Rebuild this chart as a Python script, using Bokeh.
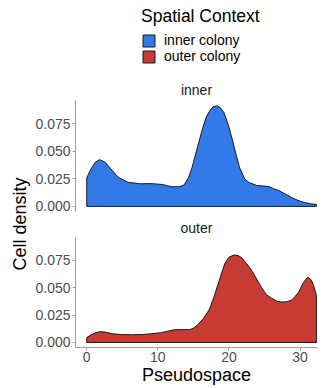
from bokeh.plotting import figure
from bokeh.models import Range1d, FixedTicker, Legend, LegendItem, Title, Label
from bokeh.layouts import row, column
from bokeh.embed import file_html
from bokeh.resources import INLINE

# ---------------- data ----------------
pseudospace_inner = [0, 0.6, 1.2, 1.8, 2.6, 3.4, 4.4, 5.8, 7.6, 9.0, 10.6, 12.0, 13.0,
                     13.7, 14.3, 14.8, 15.5, 16.2, 16.8, 17.3, 17.8, 18.3, 18.8, 19.3,
                     19.9, 20.4, 21.0, 21.5, 22.2, 22.8, 23.9, 24.8, 25.6, 26.3, 27.0,
                     28.0, 28.8, 29.7, 30.6, 31.5, 32.3]
density_inner = [0.026, 0.034, 0.040, 0.0424, 0.0400, 0.0340, 0.0265, 0.0219, 0.0205,
                 0.0207, 0.0199, 0.0178, 0.0178, 0.0195, 0.026, 0.035, 0.052, 0.0686,
                 0.081, 0.0866, 0.0905, 0.0911, 0.0895, 0.0850, 0.074, 0.0623, 0.047,
                 0.035, 0.025, 0.0217, 0.019, 0.0185, 0.018, 0.0160, 0.0144, 0.0110,
                 0.0081, 0.0055, 0.0036, 0.0024, 0.0018]

pseudospace_outer = [0, 0.66, 1.3, 1.9, 2.6, 3.5, 4.9, 6.3, 7.7, 9.1, 10.5, 12.3, 13.4,
                     14.4, 15.0, 15.6, 16.4, 17.2, 17.8, 18.3, 18.9, 19.4, 20.0, 20.7,
                     21.3, 21.8, 22.5, 23.2, 23.9, 24.6, 25.3, 26.0, 26.7, 27.4, 28.1,
                     28.8, 29.3, 29.8, 30.4, 31.0, 31.3, 31.6, 31.9, 32.3]
density_outer = [0.0045, 0.0072, 0.0090, 0.0099, 0.0095, 0.0081, 0.0072, 0.0071, 0.0072,
                 0.0080, 0.0090, 0.0117, 0.0118, 0.0117, 0.0130, 0.0162, 0.0220, 0.0297,
                 0.040, 0.050, 0.062, 0.072, 0.078, 0.080, 0.0795, 0.0775, 0.072, 0.0658,
                 0.058, 0.050, 0.0435, 0.0405, 0.0378, 0.037, 0.0372, 0.0387, 0.042,
                 0.046, 0.054, 0.0595, 0.059, 0.0568, 0.052, 0.043]

panel_names = ["inner", "outer"]
legend_labels = ["inner colony", "outer colony"]
legend_title = "Spatial Context"
x_ticks = [0, 10, 20, 30]
x_tick_labels = ["0", "10", "20", "30"]
y_ticks = [0, 0.025, 0.05, 0.075]
y_tick_labels = ["0.000", "0.025", "0.050", "0.075"]
x_label = "Pseudospace"
y_label = "Cell density"

# ---------------- style ----------------
FONT = "Liberation Sans"
FILL = {"inner": "#3079E6", "outer": "#C63B33"}
OUTLINE = "#1A1A1A"
AXIS_GREY = "#9E9E9E"
TICK_TEXT = "#4D4D4D"
X_RANGE = (-1.58, 32.45)
Y_RANGE = (-0.0046, 0.096)          # panel range (shared by both facets)
TOP_HEADROOM = 0.0906               # room above the top facet for the legend


def closed(xs, ys):
    # outline of the density area: curve, then back along the baseline
    return list(xs) + [xs[-1], xs[0]], list(ys) + [0, 0]


def style_axes(p):
    for ax in p.axis:
        ax.axis_line_color = AXIS_GREY
        ax.axis_line_width = 1
        ax.major_tick_line_color = AXIS_GREY
        ax.major_tick_out = 3
        ax.major_tick_in = 0
        ax.minor_tick_line_color = None
        ax.major_label_text_font = FONT
        ax.major_label_text_font_size = "14px"
        ax.major_label_text_color = TICK_TEXT
        ax.major_label_standoff = 2
    yax = p.yaxis[0]
    yax.ticker = FixedTicker(ticks=y_ticks)
    yax.major_label_overrides = dict(zip(y_ticks, y_tick_labels))
    yax.bounds = Y_RANGE


def base(height, y_end, top, bottom, show_x):
    p = figure(width=288, height=height, output_backend="svg", toolbar_location=None,
               x_range=Range1d(*X_RANGE), y_range=Range1d(Y_RANGE[0], y_end),
               x_axis_location="below" if show_x else None,
               min_border_left=42, min_border_right=3,
               min_border_top=top, min_border_bottom=bottom)
    p.outline_line_color = None
    p.grid.visible = False
    p.background_fill_color = "white"
    p.border_fill_color = "white"
    return p


# ---- top facet (frame extends upward to hold the legend) ----
p_top = base(215, Y_RANGE[1] + TOP_HEADROOM, 0, 4, False)
style_axes(p_top)
p_top.add_layout(Label(x=(X_RANGE[0] + X_RANGE[1]) / 2, y=Y_RANGE[1], y_offset=10,
                       text=panel_names[0], text_align="center", text_baseline="middle",
                       text_font=FONT, text_font_size="14px", text_color=OUTLINE))

# ---- bottom facet ----
p_bot = base(173, Y_RANGE[1], 21, 41, True)
style_axes(p_bot)
p_bot.add_layout(Title(text=panel_names[1], align="center", text_font=FONT,
                       text_font_size="14px", text_font_style="normal",
                       text_color=OUTLINE, standoff=4), "above")
xax = p_bot.xaxis[0]
xax.ticker = FixedTicker(ticks=x_ticks)
xax.major_label_overrides = dict(zip(x_ticks, x_tick_labels))
xax.major_label_standoff = 1
xax.axis_label = x_label
xax.axis_label_text_font = FONT
xax.axis_label_text_font_size = "18px"
xax.axis_label_text_font_style = "normal"
xax.axis_label_text_color = "black"
xax.axis_label_standoff = 0

xi, yi = closed(pseudospace_inner, density_inner)
xo, yo = closed(pseudospace_outer, density_outer)

r_in = p_top.patch(xi, yi, fill_color=FILL["inner"], line_color=OUTLINE, line_width=1)
r_out = p_bot.patch(xo, yo, fill_color=FILL["outer"], line_color=OUTLINE, line_width=1)
# legend swatch for the outer series inside the top figure (not drawn)
r_out_key = p_top.patch(xo, yo, fill_color=FILL["outer"], line_color=OUTLINE,
                        line_width=1, visible=False)

legend = Legend(items=[LegendItem(label=legend_labels[0], renderers=[r_in]),
                       LegendItem(label=legend_labels[1], renderers=[r_out_key])],
                location=(66, 147), title=legend_title,
                title_text_font=FONT, title_text_font_size="17.5px",
                title_text_font_style="normal", title_text_color="black",
                label_text_font=FONT, label_text_font_size="14px",
                label_text_color="black",
                glyph_width=15, glyph_height=15, label_height=15,
                spacing=0, padding=0, margin=0, title_standoff=5, label_standoff=8,
                border_line_color=None, background_fill_alpha=0, click_policy="none")
p_top.add_layout(legend, "center")

# ---- shared y-axis title, centred over both facets ----
p_lab = figure(width=32, height=388, output_backend="svg", toolbar_location=None,
               x_axis_location=None, y_axis_location=None,
               min_border_left=29, min_border_right=0,
               min_border_top=59, min_border_bottom=0)
p_lab.outline_line_color = None
p_lab.grid.visible = False
p_lab.add_layout(Title(text=y_label, align="center", text_font=FONT,
                       text_font_size="18px", text_font_style="normal",
                       text_color="black", standoff=0), "left")

layout = row(p_lab, column(p_top, p_bot))

open("out.html", "w").write(file_html(layout, INLINE))
